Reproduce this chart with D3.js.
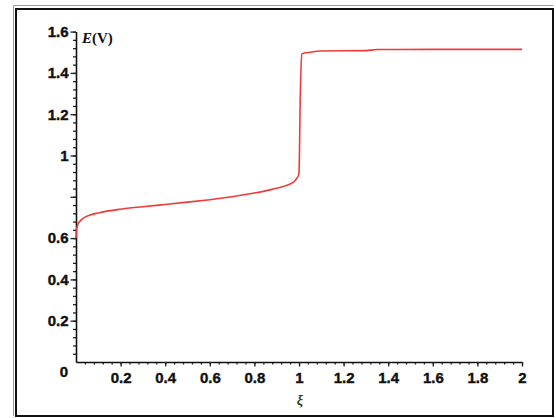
<!DOCTYPE html>
<meta charset="UTF-8">
<title>E vs z</title>
<style>
  body { margin: 0; background: #fff; }
  .tick text { font-family: "Liberation Sans", Arial, sans-serif; font-weight: bold; font-size: 15px; fill: #111; stroke: #111; stroke-width: 0.4px; }
</style>
<script src="https://d3js.org/d3.v7.min.js"></script>
<body>
<script>
  // curve
  var zValues = [0, 0.002, 0.006, 0.015, 0.03, 0.06, 0.1, 0.2, 0.3, 0.4, 0.5, 0.6, 0.7, 0.8, 0.88, 0.93, 0.96, 0.98, 0.99, 0.998, 1.0, 1.006, 1.012, 1.05, 1.1, 1.3, 1.35, 1.6, 2.0];
  var eValues = [0.60, 0.635, 0.658, 0.678, 0.695, 0.711, 0.722, 0.740, 0.752, 0.763, 0.774, 0.786, 0.80, 0.818, 0.836, 0.85, 0.862, 0.875, 0.89, 0.905, 0.915, 1.30, 1.492, 1.500, 1.506, 1.508, 1.513, 1.514, 1.514];

  var xTicks = [0.2, 0.4, 0.6, 0.8, 1, 1.2, 1.4, 1.6, 1.8, 2];
  var yTicks = [0.2, 0.4, 0.6, 0.8, 1, 1.2, 1.4, 1.6];
  var yTickLabels = ["0.2", "0.4", "0.6", "", "1", "1.2", "1.4", "1.6"];

  var W = 556, H = 418;
  var svg = d3.select("body").append("svg").attr("width", W).attr("height", H);

  // frame, double line on top/left
  svg.append("path").attr("d", "M13.5,416 V5.5 H553").attr("fill", "none").attr("stroke", "#999").attr("stroke-width", 1);
  svg.append("rect").attr("x", 16).attr("y", 9).attr("width", 537).attr("height", 407)
    .attr("fill", "none").attr("stroke", "#111").attr("stroke-width", 2);

  var x = d3.scaleLinear().domain([0, 2]).range([76, 522]);
  var y = d3.scaleLinear().domain([0, 1.6]).range([362, 31.6]);

  var minorX = d3.range(0.04, 2.001, 0.04);
  var minorY = d3.range(0.04, 1.601, 0.04);

  // minor ticks
  svg.append("g").attr("transform", "translate(0,362)")
    .call(d3.axisBottom(x).tickValues(minorX).tickSize(2.5).tickFormat(""))
    .call(function(g) { g.select(".domain").remove(); });
  svg.append("g").attr("transform", "translate(76,0)")
    .call(d3.axisLeft(y).tickValues(minorY).tickSize(3).tickFormat(""))
    .call(function(g) { g.select(".domain").remove(); });

  // major axes
  svg.append("g").attr("transform", "translate(0,362)")
    .call(d3.axisBottom(x).tickValues(xTicks).tickSize(4.5).tickSizeOuter(0).tickPadding(6)
      .tickFormat(function(d) { return d3.format("~g")(d); }));
  svg.append("g").attr("transform", "translate(76,0)")
    .call(d3.axisLeft(y).tickValues(yTicks).tickSize(5.5).tickSizeOuter(0).tickPadding(2)
      .tickFormat(function(d, i) { return yTickLabels[i]; }));

  svg.selectAll(".domain").attr("stroke", "#111").attr("stroke-width", 1.6);
  svg.selectAll(".tick line").attr("stroke", "#222").attr("stroke-width", 1.3);

  // origin label
  svg.append("text").attr("x", 68).attr("y", 377).attr("text-anchor", "end")
    .style("font-family", "Liberation Sans, Arial, sans-serif").style("font-weight", "bold")
    .style("font-size", "15px").style("stroke", "#111").style("stroke-width", "0.4px")
    .attr("fill", "#111").text("0");

  // axis titles
  var ey = svg.append("text").attr("x", 82).attr("y", 43)
    .style("font-family", "Liberation Serif, Times New Roman, serif").style("font-weight", "bold")
    .style("font-size", "15px").attr("fill", "#111");
  ey.append("tspan").style("font-style", "italic").text("E");
  ey.append("tspan").text("(V)");

  svg.append("text").attr("x", 300).attr("y", 405).attr("text-anchor", "middle")
    .style("font-family", "Liberation Serif, Times New Roman, serif").style("font-style", "italic")
    .style("font-weight", "bold").style("font-size", "14px").attr("fill", "#1f3d1f").text("ξ");

  // curve
  var pts = zValues.map(function(z, i) { return [z, eValues[i]]; });
  var line = d3.line()
    .x(function(d) { return x(d[0]); })
    .y(function(d) { return y(d[1]); })
    .curve(d3.curveMonotoneX);

  svg.append("path").datum(pts)
    .attr("d", line)
    .attr("fill", "none")
    .attr("stroke", "#f03a3a")
    .attr("stroke-width", 1.6);
</script>
</body>
